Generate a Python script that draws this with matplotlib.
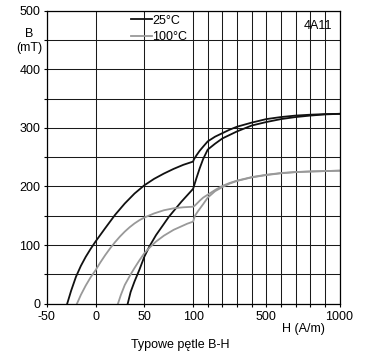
import numpy as np
import matplotlib
matplotlib.use("Agg")
import matplotlib.pyplot as plt
from matplotlib.ticker import FixedLocator, NullFormatter

plt.rcParams['font.family'] = ['Liberation Sans', 'DejaVu Sans']

# Hysteresis loops, H in A/m, B in mT
h25_outer = [-29, -25, -20, -15, -10, -5, 0, 10, 20, 30, 40, 50, 60, 70, 80, 90, 100,
             104, 118, 136, 155, 180, 220, 260, 300, 340, 420, 500, 600, 700, 800, 900, 1000]
b25_outer = [0, 22, 46, 64.5, 80, 93.5, 106, 129, 151.5, 171, 188, 202, 213, 222, 230, 237, 242.5,
             246, 253, 261, 268, 277, 285, 291, 297, 302, 309, 315, 318.5, 321, 322.5, 323.5, 324]

h25_inner = [33, 36, 40, 45, 50, 55, 62, 70, 75, 80, 88, 94, 100, 108, 118, 136, 155, 180, 220, 260,
             300, 340, 420, 500, 600, 700, 800, 900, 1000]
b25_inner = [0, 20, 38, 58, 80, 97, 117, 136, 148, 158, 174, 185, 196, 204, 214, 231, 247, 263, 273, 282,
             288, 294, 304, 310, 315, 318.5, 321, 323, 324]

h100_outer = [-19, -15, -10, -5, 0, 5, 10, 15, 20, 25, 30, 35, 40, 45, 50, 60, 70, 80, 90, 100,
              108, 118, 137, 155, 180, 220, 260, 300, 340, 420, 500, 600, 700, 800, 900, 1000]
b100_outer = [0, 15, 31, 45, 57, 70.5, 83, 94.5, 105, 114.5, 123, 130.5, 137, 142.5, 147, 154, 159.4, 162.8, 164.5, 165.5,
              167, 170, 176, 181, 186, 194, 201, 206, 210, 216, 220, 223, 224.7, 225.6, 226.3, 227]

h100_inner = [23, 26, 30, 36, 40, 45, 50, 55, 62, 70, 75, 80, 88, 94, 100, 110, 127, 153, 180, 220, 260,
              300, 340, 420, 500, 600, 700, 800, 900, 1000]
b100_inner = [0, 15, 32, 50, 61, 74, 86, 95, 106, 116, 121, 126, 132, 136.5, 140, 150, 158, 169, 181, 192, 199,
              205, 209.5, 215.5, 219.5, 222.5, 224.5, 225.6, 226.3, 227]

x_major = [-50, 0, 50, 100, 500, 1000]
x_minor = [180, 260, 340, 420, 600, 700, 800, 900]


# H axis: linear up to 100 A/m, then two compressed linear stretches
def h_forward(h):
    h = np.asarray(h, dtype=float)
    return np.where(h <= 100, h / 50,
                    np.where(h <= 500, 2 + (h - 100) / 400 * 1.5,
                             3.5 + (h - 500) / 500 * 1.5))


def h_inverse(u):
    u = np.asarray(u, dtype=float)
    return np.where(u <= 2, u * 50,
                    np.where(u <= 3.5, 100 + (u - 2) / 1.5 * 400,
                             500 + (u - 3.5) / 1.5 * 500))


fig = plt.figure(figsize=(3.66, 3.53), dpi=100)
ax = fig.add_axes([0.1276, 0.1397, 0.8, 0.83])
ax.set_xscale('function', functions=(h_forward, h_inverse))
ax.set_xlim(-50, 1000)
ax.set_ylim(0, 500)

grid_kw = dict(color='#1a1a1a', linewidth=0.75)
ax.xaxis.set_major_locator(FixedLocator(x_major))
ax.xaxis.set_minor_locator(FixedLocator(x_minor))
ax.xaxis.set_minor_formatter(NullFormatter())
ax.set_xticklabels(['-50', '0', '50', '100', '500', '1000'])
ax.yaxis.set_major_locator(FixedLocator(np.arange(0, 501, 100)))
ax.yaxis.set_minor_locator(FixedLocator(np.arange(50, 500, 100)))
ax.grid(True, which='both', **grid_kw)
ax.set_axisbelow(True)
ax.tick_params(which='both', direction='out', length=2.5, width=0.8,
               labelsize=9, pad=2, colors='black')
ax.tick_params(axis='x', pad=3)
for s in ax.spines.values():
    s.set_linewidth(0.9)
    s.set_color('black')

ax.plot(h25_outer, b25_outer, color='#111111', lw=1.3, label='25°C')
ax.plot(h25_inner, b25_inner, color='#111111', lw=1.3)
ax.plot(h100_outer, b100_outer, color='#999999', lw=1.3, label='100°C')
ax.plot(h100_inner, b100_inner, color='#999999', lw=1.3)

ax.legend(loc='upper left', bbox_to_anchor=(0.28, 0.995), frameon=False,
          fontsize=9, handlelength=1.7, handletextpad=0.0, borderaxespad=0,
          borderpad=0.2, labelspacing=0.35)

ax.text(0.925, 0.948, '4A11', transform=ax.transAxes, ha='center', va='center',
        fontsize=9)

fig.text(0.079, 0.9045, 'B', ha='center', va='center', fontsize=9)
fig.text(0.079, 0.865, '(mT)', ha='center', va='center', fontsize=9)
fig.text(0.828, 0.068, 'H (A/m)', ha='center', va='center', fontsize=9)
fig.text(0.492, 0.023, 'Typowe pętle B-H', ha='center', va='center', fontsize=9)

fig.savefig('out.png', dpi=100)
